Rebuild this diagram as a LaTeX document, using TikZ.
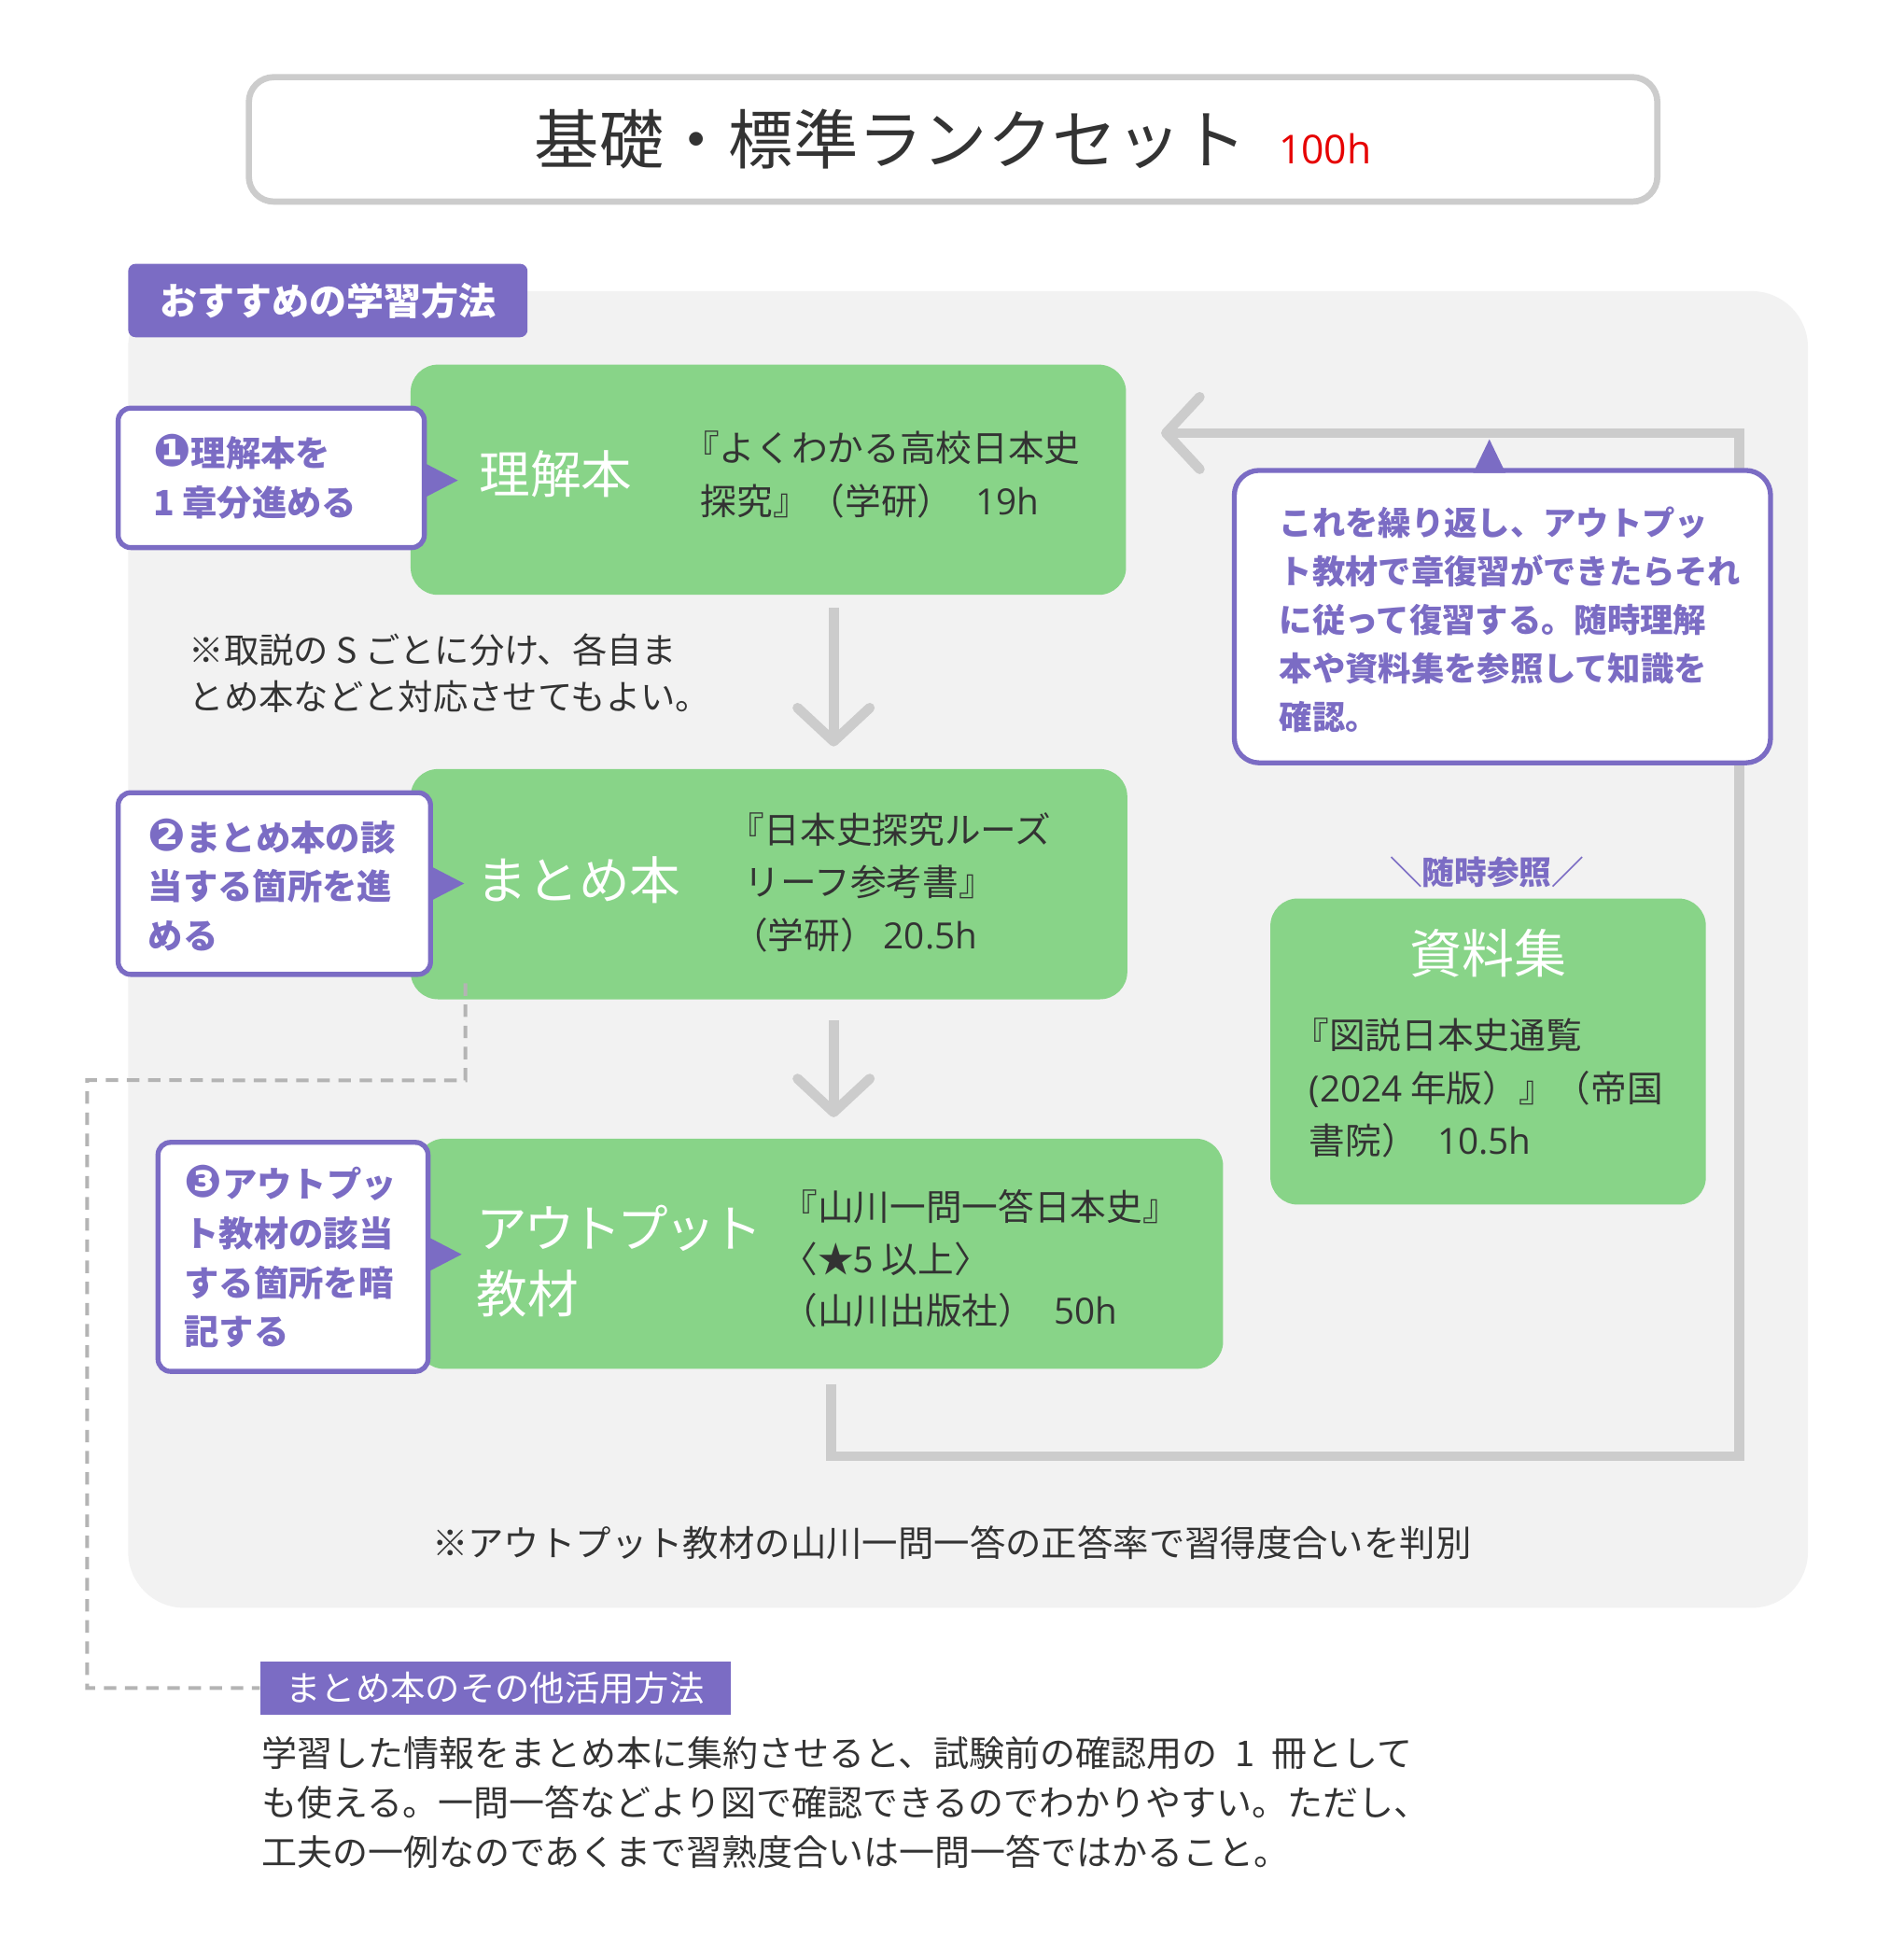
\documentclass[tikz,border=0pt]{standalone}
\usepackage{fontspec}
\setmainfont{Noto Sans CJK JP}
\newfontfamily\dvfont{DejaVu Sans}
\newfontfamily\latfont{Open Sans}
\usetikzlibrary{arrows.meta,calc}
\definecolor{pur}{RGB}{123,108,196}
\definecolor{grn}{RGB}{136,212,136}
\definecolor{pan}{RGB}{242,242,242}
\definecolor{lin}{RGB}{204,204,204}
\definecolor{txt}{RGB}{51,51,51}
\definecolor{dsh}{RGB}{180,180,180}
\definecolor{redt}{RGB}{230,0,0}
\newcommand\myfs[2]{\fontsize{#1}{#2}\selectfont}
\newcommand\cn[1]{{\dvfont\fontsize{36}{36}\selectfont #1}}
\newcommand\hrs[1]{{\latfont #1}}
\begin{document}
\begin{tikzpicture}[x=1pt,y=-1pt,
  greenbox/.style={fill=grn, draw=none, rounded corners=22pt, inner sep=0pt},
  labelbox/.style={fill=white, draw=pur, line width=4pt, rounded corners=10pt, inner sep=0pt},
  tabbox/.style={fill=pur, draw=none, inner sep=0pt, text=white},
  labeltext/.style={anchor=west, inner sep=0pt, align=left, text=pur, font=\myfs{28}{39.5}\bfseries},
  booktext/.style={anchor=west, inner sep=0pt, align=left, text=txt, font=\myfs{29}{42.5}},
  boxtitle/.style={anchor=west, inner sep=0pt, align=left, text=white, font=\myfs{41}{53}},
  plaintext/.style={anchor=west, inner sep=0pt, align=left, text=txt, font=\myfs{28.5}{39.5}},
  conn/.style={draw=lin, line width=8pt},
  chev/.style={-{Straight Barb[length=27pt,width=58pt,line width=8pt,round]}},
  dashconn/.style={draw=dsh, line width=3pt, dash pattern=on 10pt off 7pt}
]
\path[use as bounding box] (0,0) rectangle (1530,1567);
\fill[white] (0,0) rectangle (1530,1567);

% title
\node[fill=white, draw=lin, line width=5pt, rounded corners=20pt, minimum width=1132pt, minimum height=100pt] (title) at (766,112) {};
\node[inner sep=0pt, text=txt] (titletext) at (766,112) {\myfs{52}{52}基礎・標準ランクセット\hspace{26pt}{\color{redt}\latfont\myfs{32}{32}100h}};

% panel
\node[fill=pan, rounded corners=45pt, minimum width=1350pt, minimum height=1058pt, inner sep=0pt] (panel) at (778,763) {};

% tab 1
\node[tabbox, rounded corners=6pt, minimum width=321pt, minimum height=59pt, font=\myfs{30}{30}\bfseries] (tab1) at (263.5,241.5) {おすすめの学習方法};

% green boxes
\node[greenbox, minimum width=575pt, minimum height=185pt] (box1) at (617.5,385.5) {};
\node[greenbox, minimum width=576pt, minimum height=185pt] (box2) at (618,710.5) {};
\node[greenbox, minimum width=648pt, minimum height=185pt] (box3) at (659,1007.5) {};
\node[greenbox, minimum width=350pt, minimum height=246pt] (ref) at (1196,845) {};

% loop connector
\coordinate (loopA) at ($(box3.south)+(9,12)$);
\coordinate (loopB) at ($(box1.east)+(28,-37.5)$);
\draw[conn, chev] (loopA) -- ++(0,58) -| (1398,348) -- (loopB);

% vertical arrows
\draw[conn, chev] ($(box1.south)+(52.5,10)$) -- ($(box2.north)+(52,-18)$);
\draw[conn, chev] ($(box2.south)+(52,17)$) -- ($(box3.north)+(11,-17)$);

% callout
\node[labelbox, rounded corners=20pt, minimum width=431pt, minimum height=235pt] (callout) at (1207.5,495.5) {};
\fill[pur] (1184,380) -- (1197,353) -- (1210,380) -- cycle;
\node[labeltext, font=\myfs{26.5}{39}\bfseries] (callouttext) at (1028,498) {これを繰り返し、アウトプッ\\ト教材で章復習ができたらそれ\\に従って復習する。随時理解\\本や資料集を参照して知識を\\確認。};

% label boxes
\node[labelbox, minimum width=246pt, minimum height=112pt] (lab1) at (218,384) {};
\fill[pur] (341,372) -- (368,386) -- (341,400) -- cycle;
\node[labeltext] (lab1text) at (123,383) {\cn{❶}理解本を\\1 章分進める};

\node[labelbox, minimum width=251pt, minimum height=146pt] (lab2) at (220.5,710) {};
\fill[pur] (346,696) -- (373,710) -- (346,724) -- cycle;
\node[labeltext] (lab2text) at (119,711) {\cn{❷}まとめ本の該\\当する箇所を進\\める};

\node[labelbox, minimum width=217pt, minimum height=184pt] (lab3) at (235.5,1010) {};
\fill[pur] (344,994) -- (371,1008) -- (344,1022) -- cycle;
\node[labeltext] (lab3text) at (148,1010) {\cn{❸}アウトプッ\\ト教材の該当\\する箇所を暗\\記する};

% box texts
\node[boxtitle] (t1) at (385,381) {理解本};
\node[booktext] (b1) at (563,381.5) {\hspace*{-14pt}『よくわかる高校日本史\\探究』（学研）\hspace{18pt}\hrs{19h}};

\node[boxtitle] (t2) at (383,707) {まとめ本};
\node[booktext] (b2) at (598,709) {\hspace*{-13pt}『日本史探究ルーズ\\リーフ参考書』\\\hspace*{-10pt}（学研）\hspace{6pt}\hrs{20.5h}};

\node[boxtitle] (t3) at (383,1013.5) {{\addfontfeature{LetterSpace=-8}アウトプット}\\教材};
\node[booktext, font=\myfs{29}{41.5}] (b3) at (628,1011.5) {『山川一問一答日本史』\\〈★5 以上〉\\（山川出版社）\hspace{16pt}\hrs{50h}};

\node[inner sep=0pt, text=pur, font=\myfs{26}{26}\bfseries] (zuiji) at (1195,701) {＼随時参照／};
\node[inner sep=0pt, text=white, font=\myfs{42}{42}] (t4) at (1196,766) {資料集};
\node[booktext] (b4) at (1052,874.5) {\hspace*{-13pt}『図説日本史通覧\\\hrs{(2024} 年版）』（帝国\\書院）\hspace{16pt}\hrs{10.5h}};

% notes
\node[plaintext, font=\myfs{28}{38}] (note1) at (152,541) {※取説の S ごとに分け、各自ま\\とめ本などと対応させてもよい。};
\node[inner sep=0pt, text=txt, font=\myfs{28.8}{28.8}] (note2) at (765,1240) {※アウトプット教材の山川一問一答の正答率で習得度合いを判別};

% tab 2 and dashed connector
\node[tabbox, minimum width=378pt, minimum height=43pt, font=\myfs{28}{28}] (tab2) at (398,1356.5) {まとめ本のその他活用方法};
\coordinate (dashA) at ($(box2.south)+(-244,-13)$);
\draw[dashconn] (dashA) -- ++(0,78) -- (70,868) |- (tab2.west);

\node[plaintext] (body) at (210,1448.5) {学習した情報をまとめ本に集約させると、試験前の確認用の\hspace{14pt}1\hspace{14pt}冊として\\も使える。一問一答などより図で確認できるのでわかりやすい。ただし、\\工夫の一例なのであくまで習熟度合いは一問一答ではかること。};
\end{tikzpicture}
\end{document}
